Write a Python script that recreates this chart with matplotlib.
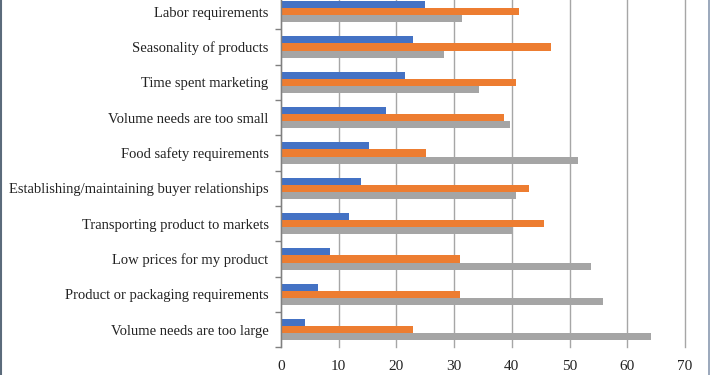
import numpy as np
import matplotlib
matplotlib.use('Agg')
import matplotlib.pyplot as plt
from matplotlib.lines import Line2D

# Categories listed from bottom to top
categories = ['Volume needs are too large',
              'Product or packaging requirements',
              'Low prices for my product',
              'Transporting product to markets',
              'Establishing/maintaining buyer relationships',
              'Food safety requirements',
              'Volume needs are too small',
              'Time spent marketing',
              'Seasonality of products',
              'Labor requirements']

blue_vals = [4.2, 6.4, 8.5, 11.8, 13.9, 15.3, 18.2, 21.4, 22.8, 25.0]
orange_vals = [22.8, 31.1, 31.1, 45.6, 42.9, 25.2, 38.6, 40.8, 46.7, 41.3]
gray_vals = [64.1, 55.8, 53.7, 40.1, 40.8, 51.5, 39.7, 34.3, 28.2, 31.4]

x_ticks = [0, 10, 20, 30, 40, 50, 60, 70]

plt.rcParams['font.family'] = ['Liberation Serif', 'DejaVu Serif']

fig = plt.figure(figsize=(7.1, 3.75), dpi=100)
ax = fig.add_axes([281 / 710, 27.7 / 375, 404 / 710, 353.3 / 375])

y = np.arange(len(categories))
h = 0.2
ax.barh(y + h, blue_vals, height=h, color='#4472C4', zorder=3)
ax.barh(y, orange_vals, height=h, color='#ED7D31', zorder=3)
ax.barh(y - h, gray_vals, height=h, color='#A5A5A5', zorder=3)

ax.set_xlim(0, 70)
ax.set_ylim(-0.5, len(categories) - 0.5)
ax.set_xticks(x_ticks)
ax.set_xticklabels([str(t) for t in x_ticks], fontsize=11)
ax.tick_params(axis='x', length=0, pad=9, colors='#222222')

ax.set_yticks(y)
ax.set_yticklabels(categories, fontsize=10.5, color='#222222')
ax.set_yticks(np.arange(-0.5, len(categories), 1.0), minor=True)
ax.tick_params(axis='y', which='major', length=0, pad=9)
ax.tick_params(axis='y', which='minor', length=4, color='#808080', width=1)

ax.grid(axis='x', color='#A6A6A6', linewidth=1, zorder=0)
for gl in ax.get_xgridlines():
    gl.set_clip_on(False)
for s in ['top', 'right', 'bottom']:
    ax.spines[s].set_visible(False)
ax.spines['left'].set_color('#808080')
ax.spines['left'].set_linewidth(1)
ax.spines['left'].set_zorder(4)

# outer frame edges
fig.add_artist(Line2D([0.5 / 710, 0.5 / 710], [0, 1], transform=fig.transFigure,
                      color='#5B6B7B', linewidth=1.5))
fig.add_artist(Line2D([708.5 / 710, 708.5 / 710], [0, 1], transform=fig.transFigure,
                      color='#8A9AB0', linewidth=1.2))

fig.savefig('out.png', dpi=100)
